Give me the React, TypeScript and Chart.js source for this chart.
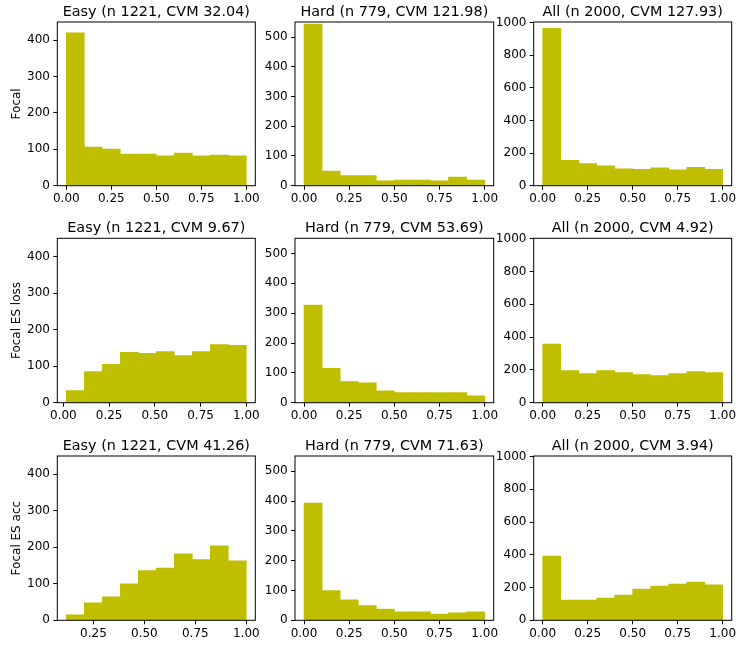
import React, { useEffect, useRef } from "react";
import { Chart, registerables } from "chart.js";

Chart.register(...registerables);

// ---------------- DATA ----------------
const rowLabels = ["Focal", "Focal ES loss", "Focal ES acc"];

const panelTitles = [
  ["Easy (n 1221, CVM 32.04)", "Hard (n 779, CVM 121.98)", "All (n 2000, CVM 127.93)"],
  ["Easy (n 1221, CVM 9.67)", "Hard (n 779, CVM 53.69)", "All (n 2000, CVM 4.92)"],
  ["Easy (n 1221, CVM 41.26)", "Hard (n 779, CVM 71.63)", "All (n 2000, CVM 3.94)"],
];

// histogram counts (10 bins each)
const focalEasy = [420, 106, 101, 87, 87, 82, 90, 82, 84, 82];
const focalHard = [544, 49, 34, 34, 16, 19, 19, 16, 29, 19];
const focalAll = [964, 155, 135, 121, 103, 101, 109, 98, 113, 101];

const esLossEasy = [33, 85, 105, 138, 135, 140, 129, 140, 159, 157];
const esLossHard = [327, 115, 71, 67, 40, 34, 34, 34, 34, 23];
const esLossAll = [358, 196, 178, 196, 184, 171, 165, 178, 190, 184];

const esAccEasy = [15, 48, 64, 100, 136, 143, 182, 166, 204, 163];
const esAccHard = [393, 100, 69, 49, 38, 28, 28, 21, 25, 28];
const esAccAll = [392, 124, 123, 136, 154, 191, 209, 221, 234, 216];

const panelCounts = [
  [focalEasy, focalHard, focalAll],
  [esLossEasy, esLossHard, esLossAll],
  [esAccEasy, esAccHard, esAccAll],
];

// histogram bin range [low, high] per panel
const binLow = [
  [0, 0, 0],
  [0.016, 0, 0],
  [0.117, 0, 0],
];
const binHigh = [
  [1, 1, 1],
  [1, 1, 1],
  [1, 1, 1],
];

// y-axis limits & ticks per column
const yMaxByCol = [450, 551, 1003];
const yTicksByCol = [
  [0, 100, 200, 300, 400],
  [0, 100, 200, 300, 400, 500],
  [0, 200, 400, 600, 800, 1000],
];

// x-axis ticks
const xTicksFull = [0, 0.25, 0.5, 0.75, 1];
const xTicksAccEasy = [0.25, 0.5, 0.75, 1];

// ---------------- LAYOUT ----------------
const axLeft = [57.3, 295, 533.7];
const axRight = [255.3, 493.7, 731.7];
const axTop = [22, 238.3, 456];
const axBottom = [185.7, 402.7, 620.3];

const canvasLeft = [0, 255, 495];
const canvasWidth = [268, 258, 243];
const canvasTop = [0, 215, 430];
const canvasHeight = 215;

const TITLE_SIZE = 14.4;
const TITLE_PAD_BOTTOM = 1;
const TITLE_H = TITLE_SIZE * 1.2 + TITLE_PAD_BOTTOM;
const XAXIS_H = 22;
const TICK_SIZE = 12;
const BAR_COLOR = "#bfbf00";
const FONT = "'DejaVu Sans', 'Liberation Sans', sans-serif";

const spinePlugin = {
  id: "spines",
  afterDatasetsDraw(chart: any) {
    const { ctx, chartArea } = chart;
    const { left, top, right, bottom } = chartArea;
    ctx.save();
    ctx.strokeStyle = "#000";
    ctx.lineWidth = 1;
    ctx.strokeRect(left, top, right - left, bottom - top);
    ctx.restore();
  },
};

function Panel({ r, c }: { r: number; c: number }) {
  const ref = useRef<HTMLCanvasElement | null>(null);

  useEffect(() => {
    if (!ref.current) return;
    const counts = panelCounts[r][c];
    const lo = binLow[r][c];
    const hi = binHigh[r][c];
    const w = (hi - lo) / counts.length;
    const points = counts.map((v, i) => ({ x: lo + (i + 0.5) * w, y: v }));
    const span = hi - lo;
    const xMin = lo - 0.05 * span;
    const xMax = hi + 0.05 * span;
    const xTicks = r === 2 && c === 0 ? xTicksAccEasy : xTicksFull;
    const yTicks = yTicksByCol[c];

    const yAxisW = axLeft[c] - canvasLeft[c];
    const padTop = axTop[r] - canvasTop[r] - TITLE_H;
    const padBottom = canvasTop[r] + canvasHeight - axBottom[r] - XAXIS_H;
    const padRight = canvasLeft[c] + canvasWidth[c] - axRight[c];

    const chart = new Chart(ref.current, {
      type: "bar",
      data: {
        datasets: [
          {
            data: points as any,
            backgroundColor: BAR_COLOR,
            borderWidth: 0,
            barPercentage: 1,
            categoryPercentage: 1,
          },
        ],
      },
      options: {
        animation: false,
        responsive: false,
        devicePixelRatio: 1,
        layout: {
          padding: { top: padTop, bottom: padBottom, left: 0, right: padRight },
        },
        plugins: {
          legend: { display: false },
          tooltip: { enabled: false },
          title: {
            display: true,
            text: panelTitles[r][c],
            fullSize: false,
            color: "#000",
            font: { family: FONT, size: TITLE_SIZE, weight: "normal" as any },
            padding: { top: 0, bottom: TITLE_PAD_BOTTOM },
          },
        },
        scales: {
          x: {
            type: "linear",
            min: xMin,
            max: xMax,
            offset: false,
            afterBuildTicks: (scale: any) => {
              scale.ticks = xTicks.map((v) => ({ value: v }));
            },
            afterFit: (scale: any) => {
              scale.height = XAXIS_H;
              scale.paddingLeft = 0;
              scale.paddingRight = 0;
            },
            grid: {
              display: true,
              offset: false,
              drawOnChartArea: false,
              drawTicks: true,
              tickLength: 4,
              color: "#000",
              lineWidth: 1,
            },
            border: { display: false },
            ticks: {
              color: "#000",
              padding: 2,
              maxRotation: 0,
              autoSkip: false,
              font: { family: FONT, size: TICK_SIZE },
              callback: (v: any) => Number(v).toFixed(2),
            },
          },
          y: {
            type: "linear",
            min: 0,
            max: yMaxByCol[c],
            afterBuildTicks: (scale: any) => {
              scale.ticks = yTicks.map((v) => ({ value: v }));
            },
            afterFit: (scale: any) => {
              scale.width = yAxisW;
              scale.paddingTop = 0;
              scale.paddingBottom = 0;
              scale.paddingLeft = 0;
              scale.paddingRight = 0;
            },
            grid: {
              display: true,
              drawOnChartArea: false,
              drawTicks: true,
              tickLength: 4,
              color: "#000",
              lineWidth: 1,
            },
            border: { display: false },
            title: {
              display: c === 0,
              text: rowLabels[r],
              color: "#000",
              font: { family: FONT, size: TICK_SIZE },
              padding: { top: 9.5, bottom: 0 },
            },
            ticks: {
              color: "#000",
              padding: 3.3,
              autoSkip: false,
              font: { family: FONT, size: TICK_SIZE },
              callback: (v: any) => String(v),
            },
          },
        },
      },
      plugins: [spinePlugin],
    } as any);

    return () => chart.destroy();
  }, [r, c]);

  return (
    <canvas
      ref={ref}
      width={canvasWidth[c]}
      height={canvasHeight}
      style={{
        position: "absolute",
        left: canvasLeft[c],
        top: canvasTop[r],
        width: canvasWidth[c],
        height: canvasHeight,
      }}
    />
  );
}

export default function App() {
  const cells: React.ReactNode[] = [];
  for (let r = 0; r < 3; r++) {
    for (let c = 0; c < 3; c++) {
      cells.push(<Panel key={`${r}-${c}`} r={r} c={c} />);
    }
  }
  return (
    <div
      style={{
        position: "fixed",
        left: 0,
        top: 0,
        width: 738,
        height: 645,
        background: "#fff",
        overflow: "hidden",
      }}
    >
      {cells}
    </div>
  );
}
